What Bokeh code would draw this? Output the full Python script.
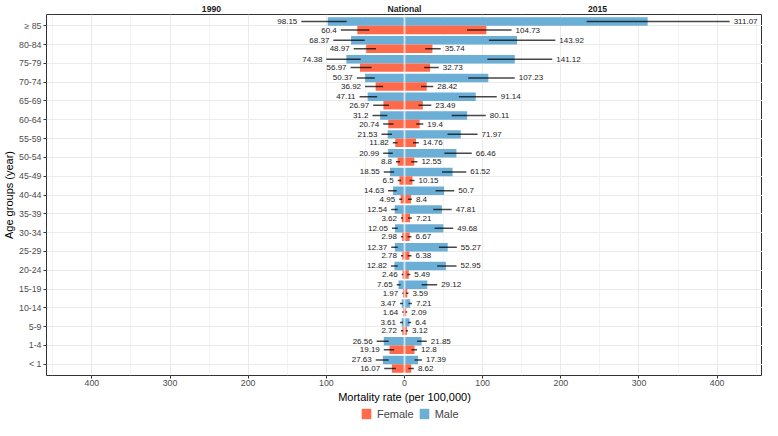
from bokeh.plotting import figure
from bokeh.layouts import column
from bokeh.models import (ColumnDataSource, FactorRange, Range1d, FixedTicker,
                          LinearAxis, Legend, LegendItem, Span)
from bokeh.transform import dodge
from bokeh.core.properties import value
from bokeh.embed import file_html
from bokeh.resources import INLINE

# ---------------- data (top row first) ----------------
age_groups = ["≥ 85", "80-84", "75-79", "70-74", "65-69", "60-64", "55-59", "50-54",
              "45-49", "40-44", "35-39", "30-34", "25-29", "20-24", "15-19", "10-14",
              "5-9", "1-4", "< 1"]

male_1990 = [98.15, 68.37, 74.38, 50.37, 47.11, 31.2, 21.53, 20.99, 18.55, 14.63,
             12.54, 12.05, 12.37, 12.82, 7.65, 3.47, 3.61, 26.56, 27.63]
male_1990_lo = [74, 51, 56, 38, 35, 22, 16, 14.9, 13.2, 9.9, 8.7, 8.7, 8.7, 8.7, 5, 2, 2, 20.3, 20.3]
male_1990_hi = [132, 91, 100, 61, 57.5, 41, 29.4, 27.3, 26.5, 21, 17, 16, 17, 17.4, 10, 5.8, 5.8, 35.6, 36.8]

female_1990 = [60.4, 48.97, 56.97, 36.92, 26.97, 20.74, 11.82, 8.8, 6.5, 4.95,
               3.62, 2.98, 2.78, 2.46, 1.97, 1.64, 2.72, 19.19, 16.07]
female_1990_lo = [45, 36.4, 42, 27.3, 20, 14, 9, 5.8, 4.5, 3.2, 2, 1.7, 1.7, 1.5, 1.2, 1.0, 1.7, 13.2, 11]
female_1990_hi = [81.5, 65, 69, 50.5, 40, 27.3, 15, 10.8, 8.7, 6.8, 4.5, 4.5, 4.5, 3.7, 2.9, 2.9, 4.5, 26.5, 26]

male_2015 = [311.07, 143.92, 141.12, 107.23, 91.14, 80.11, 71.97, 66.46, 61.52, 50.7,
             47.81, 49.68, 55.27, 52.95, 29.12, 7.21, 6.4, 21.85, 17.39]
male_2015_lo = [233, 108, 106, 81.5, 69.5, 60.4, 55, 51, 48, 39.7, 36.8, 38.5, 44, 41.8, 22, 5, 4.5, 16.1, 12.8]
male_2015_hi = [416, 193, 189, 141, 118, 104, 93.5, 86, 79, 63.7, 60.4, 62.4, 67, 66.6, 41.8, 9.5, 8.5, 28.5, 22.3]

female_2015 = [104.73, 35.74, 32.73, 28.42, 23.49, 19.4, 14.76, 12.55, 10.15, 8.4,
               7.21, 6.67, 6.38, 5.49, 3.59, 2.09, 3.12, 12.8, 8.62]
female_2015_lo = [80, 26.5, 25.2, 21, 17.8, 15, 10.8, 8.7, 6.6, 4.5, 4.5, 4, 4, 3.5, 2, 1, 1.8, 9, 5]
female_2015_hi = [137, 46.3, 43.8, 36.8, 34.3, 24, 18.2, 16.5, 12.8, 9.5, 9.5, 9, 9, 7.5, 5, 3.5, 4.5, 16, 12]

x_ticks = [-400, -300, -200, -100, 0, 100, 200, 300, 400]
x_minor = [-450, -350, -250, -150, -50, 50, 150, 250, 350, 450]
panel_titles = {-247: "1990", 0: "National", 247: "2015"}
legend_labels = ["Female", "Male"]

# ---------------- styles ----------------
MALE = "#6BAED6"
FEMALE = "#FF6A4B"
FONT = "Liberation Sans"

neg = lambda a: [-v for v in a]
src = ColumnDataSource(dict(
    age=age_groups,
    m90=neg(male_1990), m90_lo=neg(male_1990_lo), m90_hi=neg(male_1990_hi),
    m90_txt=[str(v) for v in male_1990],
    f90=neg(female_1990), f90_lo=neg(female_1990_lo), f90_hi=neg(female_1990_hi),
    f90_txt=[str(v) for v in female_1990],
    m15=male_2015, m15_lo=male_2015_lo, m15_hi=male_2015_hi,
    m15_txt=[str(v) for v in male_2015],
    f15=female_2015, f15_lo=female_2015_lo, f15_hi=female_2015_hi,
    f15_txt=[str(v) for v in female_2015],
))

y_range = FactorRange(factors=list(reversed(age_groups)), range_padding=0.1,
                      range_padding_units="absolute")
p = figure(width=762, height=405, y_range=y_range, x_range=Range1d(-458, 458),
           output_backend="svg", toolbar_location=None, min_border=0,
           min_border_left=0, min_border_right=0, min_border_top=0, min_border_bottom=0)
p.background_fill_color = "white"
p.border_fill_color = "white"
p.outline_line_color = "#333333"
p.outline_line_width = 1

# grids
p.xgrid.ticker = FixedTicker(ticks=x_ticks, minor_ticks=x_minor)
p.xgrid.grid_line_color = "#EBEBEB"
p.xgrid.grid_line_width = 1
p.xgrid.minor_grid_line_color = "#EBEBEB"
p.xgrid.minor_grid_line_width = 0.6
p.ygrid.grid_line_color = "#EBEBEB"
p.ygrid.grid_line_width = 1

# axes
p.xaxis.ticker = FixedTicker(ticks=x_ticks)
p.xaxis.major_label_overrides = {t: str(abs(t)) for t in x_ticks}
p.xaxis.axis_label = "Mortality rate (per 100,000)"
p.yaxis.axis_label = "Age groups (year)"
for ax in (p.xaxis[0], p.yaxis[0]):
    ax.axis_line_color = None
    ax.major_tick_line_color = "#333333"
    ax.major_tick_out = 3
    ax.major_tick_in = 0
    ax.minor_tick_line_color = None
    ax.minor_tick_out = 0
    ax.minor_tick_in = 0
    ax.major_label_text_font = FONT
    ax.major_label_text_font_size = "8.8px"
    ax.major_label_text_color = "#4D4D4D"
    ax.major_label_standoff = 2
    ax.axis_label_text_font = FONT
    ax.axis_label_text_font_size = "11px"
    ax.axis_label_text_font_style = "normal"
    ax.axis_label_text_color = "#000000"
    ax.axis_label_standoff = 3
p.xaxis[0].major_label_standoff = 1
p.xaxis[0].axis_label_standoff = 2
p.yaxis[0].axis_label_standoff = 1

top_axis = LinearAxis(ticker=FixedTicker(ticks=list(panel_titles.keys())),
                      major_label_overrides=panel_titles,
                      axis_line_color=None, major_tick_line_color=None,
                      minor_tick_line_color=None, major_tick_out=0, major_tick_in=0,
                      minor_tick_out=0, minor_tick_in=0, major_label_standoff=1,
                      major_label_text_font=FONT, major_label_text_font_size="8.6px",
                      major_label_text_font_style="bold", major_label_text_color="#1A1A1A")
p.add_layout(top_axis, "above")

# bars
H = 0.45
OFF = 0.225
yM = dodge("age", OFF, range=y_range)
yF = dodge("age", -OFF, range=y_range)

p.hbar(y=yM, left="m90", right=0, height=H, source=src, fill_color=MALE, line_color=None)
p.hbar(y=yM, left=0, right="m15", height=H, source=src, fill_color=MALE, line_color=None)
p.hbar(y=yF, left="f90", right=0, height=H, source=src, fill_color=FEMALE, line_color=None)
p.hbar(y=yF, left=0, right="f15", height=H, source=src, fill_color=FEMALE, line_color=None)

# centre line
p.add_layout(Span(location=0, dimension="height", line_color="white",
                  line_alpha=0.6, line_width=2))

# error bars
ekw = dict(source=src, line_color="black", line_alpha=0.72, line_width=1.5)
p.segment(x0="m90_lo", x1="m90_hi", y0=yM, y1=yM, **ekw)
p.segment(x0="f90_lo", x1="f90_hi", y0=yF, y1=yF, **ekw)
p.segment(x0="m15_lo", x1="m15_hi", y0=yM, y1=yM, **ekw)
p.segment(x0="f15_lo", x1="f15_hi", y0=yF, y1=yF, **ekw)

# value labels
tkw = dict(source=src, text_font=value(FONT), text_font_size="8px",
           text_color="#1A1A1A", text_baseline="middle")
p.text(x="m90_hi", y=yM, text="m90_txt", text_align="right", x_offset=-4, **tkw)
p.text(x="f90_hi", y=yF, text="f90_txt", text_align="right", x_offset=-4, **tkw)
p.text(x="m15_hi", y=yM, text="m15_txt", text_align="left", x_offset=4, **tkw)
p.text(x="f15_hi", y=yF, text="f15_txt", text_align="left", x_offset=4, **tkw)

# ---------------- legend strip ----------------
lg = figure(width=762, height=15, x_range=Range1d(0, 1), y_range=Range1d(0, 1),
            output_backend="svg", toolbar_location=None,
            x_axis_location=None, y_axis_location=None, min_border=0,
            min_border_left=0, min_border_right=0, min_border_top=0, min_border_bottom=0)
lg.grid.visible = False
lg.outline_line_color = None
lg.background_fill_color = "white"
lg.border_fill_color = "white"
# zero-size bars: only their colours are used, for the legend swatches
r_f = lg.hbar(y=0.5, left=0, right=0, height=0, source=src, fill_color=FEMALE, line_color=None)
r_m = lg.hbar(y=0.5, left=0, right=0, height=0, source=src, fill_color=MALE, line_color=None)
legend = Legend(items=[LegendItem(label=legend_labels[0], renderers=[r_f], index=0),
                       LegendItem(label=legend_labels[1], renderers=[r_m], index=0)],
                orientation="horizontal", location=(314, 0),
                label_text_font=FONT, label_text_font_size="11px",
                label_height=13, glyph_width=12, glyph_height=13,
                label_standoff=5, spacing=4,
                padding=1, margin=0, border_line_color=None,
                background_fill_alpha=0)
lg.add_layout(legend, "center")

layout = column(p, lg, spacing=0)
open("out.html", "w").write(file_html(layout, INLINE))
